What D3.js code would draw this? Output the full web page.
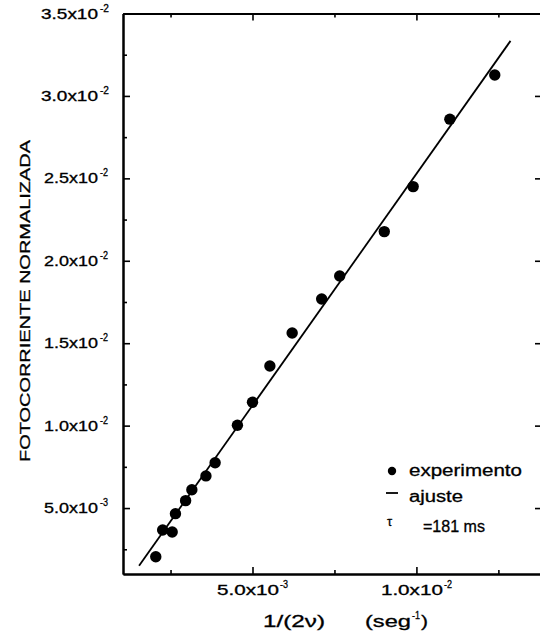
<!DOCTYPE html>
<html><head><meta charset="utf-8">
<script src="https://cdn.jsdelivr.net/npm/d3@7"></script>
<style>
html,body{margin:0;padding:0;background:#fff;}
svg{display:block;}
text{font-family:"Liberation Sans",Arial,Helvetica,sans-serif;fill:#000;stroke:#000;stroke-width:0.3;}
</style></head>
<body>
<svg id="c" width="540" height="638"></svg>
<script>
// ---- data ----
const expX = [0.00205,0.00226,0.00255,0.00265,0.00296,0.00315,0.00358,0.00386,0.00454,0.00500,0.00553,0.00621,0.00711,0.00766,0.00902,0.00990,0.01102,0.01239];
const expY = [0.00205,0.00367,0.00355,0.00466,0.00545,0.00611,0.00695,0.00775,0.01002,0.01142,0.01362,0.01562,0.01768,0.01908,0.02177,0.02450,0.02859,0.03127];
const fitX = [0.00154,0.01287];
const fitY = [0.00150,0.03334];
const yTicks = [0.005,0.010,0.015,0.020,0.025,0.030,0.035];
const yMinor = [0.0025,0.0075,0.0125,0.0175,0.0225,0.0275,0.0325];
const yTickMant = ["5.0x10","1.0x10","1.5x10","2.0x10","2.5x10","3.0x10","3.5x10"];
const yTickExp = ["-3","-2","-2","-2","-2","-2","-2"];
const xTicks = [0.005,0.010];
const xMinor = [0.0025,0.0075,0.0125];
const xTickMant = ["5.0x10","1.0x10"];
const xTickExp = ["-3","-2"];
const yTitle = "FOTOCORRIENTE NORMALIZADA";
const xTitle1 = "1/(2\u03BD)";
const xTitle2 = "(seg";
const xTitle2Exp = "-1";
const xTitle2End = ")";
const legendLabels = ["experimento","ajuste","=181 ms"];
const tauSymbol = "\u03C4";

// ---- scales ----
const x = d3.scaleLinear().domain([0.00105,0.0138]).range([123,541]);
const y = d3.scaleLinear().domain([0.001,0.035]).range([574,13.5]);
const svg = d3.select("#c");

function axisStyle(g){
  g.selectAll("path.domain").attr("stroke","#000").attr("stroke-width",2);
  g.selectAll(".tick line").attr("stroke","#000").attr("stroke-width",1.6);
  g.selectAll(".tick text").remove();
}
function addAxis(axisFn, transform, vals, size){
  svg.append("g").attr("transform",transform)
    .call(axisFn.tickValues(vals).tickSizeInner(size).tickSizeOuter(0).tickFormat("")).call(axisStyle);
}
addAxis(d3.axisLeft(y), `translate(${x.range()[0]},0)`, yTicks, -7);
addAxis(d3.axisLeft(y), `translate(${x.range()[0]},0)`, yMinor, -4);
addAxis(d3.axisRight(y), `translate(${x.range()[1]},0)`, yTicks, -6);
addAxis(d3.axisBottom(x), `translate(0,${y.range()[0]})`, xTicks, -7);
addAxis(d3.axisBottom(x), `translate(0,${y.range()[0]})`, xMinor, -4);
addAxis(d3.axisTop(x), `translate(0,${y.range()[1]})`, xTicks, -7);
addAxis(d3.axisTop(x), `translate(0,${y.range()[1]})`, xMinor, -4);

// text with forced width
function txt(px,py,str,w,fs){
  return svg.append("text").attr("x",px).attr("y",py).attr("font-size",fs)
    .attr("textLength",w).attr("lengthAdjust","spacingAndGlyphs").text(str);
}
// y tick labels
yTicks.forEach((v,i)=>{
  const wide = v>=0.03 ? 3 : 0;
  txt(44-wide, y(v)+5, yTickMant[i], 54+wide, 14);
  txt(100, y(v)-2, yTickExp[i], 8+(wide?1:0), 10);
});
// x tick labels
xTicks.forEach((v,i)=>{
  txt(x(v)-35.5, 595, xTickMant[i], 62, 14);
  txt(x(v)+27.5, 588, xTickExp[i], 8, 10);
});

// axis titles
svg.append("text").attr("transform",`translate(30,${(462+140)/2}) rotate(-90)`)
  .attr("text-anchor","middle").attr("font-size",15.5)
  .attr("textLength",322).attr("lengthAdjust","spacingAndGlyphs").text(yTitle);
txt(263,627,xTitle1,62,16.5);
txt(365,627,xTitle2,46,16.5);
txt(412,619,xTitle2Exp,8,11);
txt(421,627,xTitle2End,7,16.5);

// fit line
svg.append("path").datum(fitX.map((v,i)=>[v,fitY[i]]))
  .attr("d",d3.line().x(d=>x(d[0])).y(d=>y(d[1])))
  .attr("stroke","#000").attr("stroke-width",1.8).attr("fill","none");

// points
svg.append("g").selectAll("circle").data(expX.map((v,i)=>[v,expY[i]])).join("circle")
  .attr("cx",d=>x(d[0])).attr("cy",d=>y(d[1])).attr("r",5.7).attr("fill","#000");

// legend
svg.append("circle").attr("cx",392).attr("cy",471).attr("r",4.2).attr("fill","#000");
svg.append("line").attr("x1",386).attr("x2",398).attr("y1",493).attr("y2",493).attr("stroke","#000").attr("stroke-width",1.8);
svg.append("text").attr("x",387).attr("y",526).attr("font-size",13).text(tauSymbol);
txt(409,476,legendLabels[0],113,16);
txt(409,502,legendLabels[1],54,16);
txt(423,532,legendLabels[2],62,16);
</script>
</body></html>
